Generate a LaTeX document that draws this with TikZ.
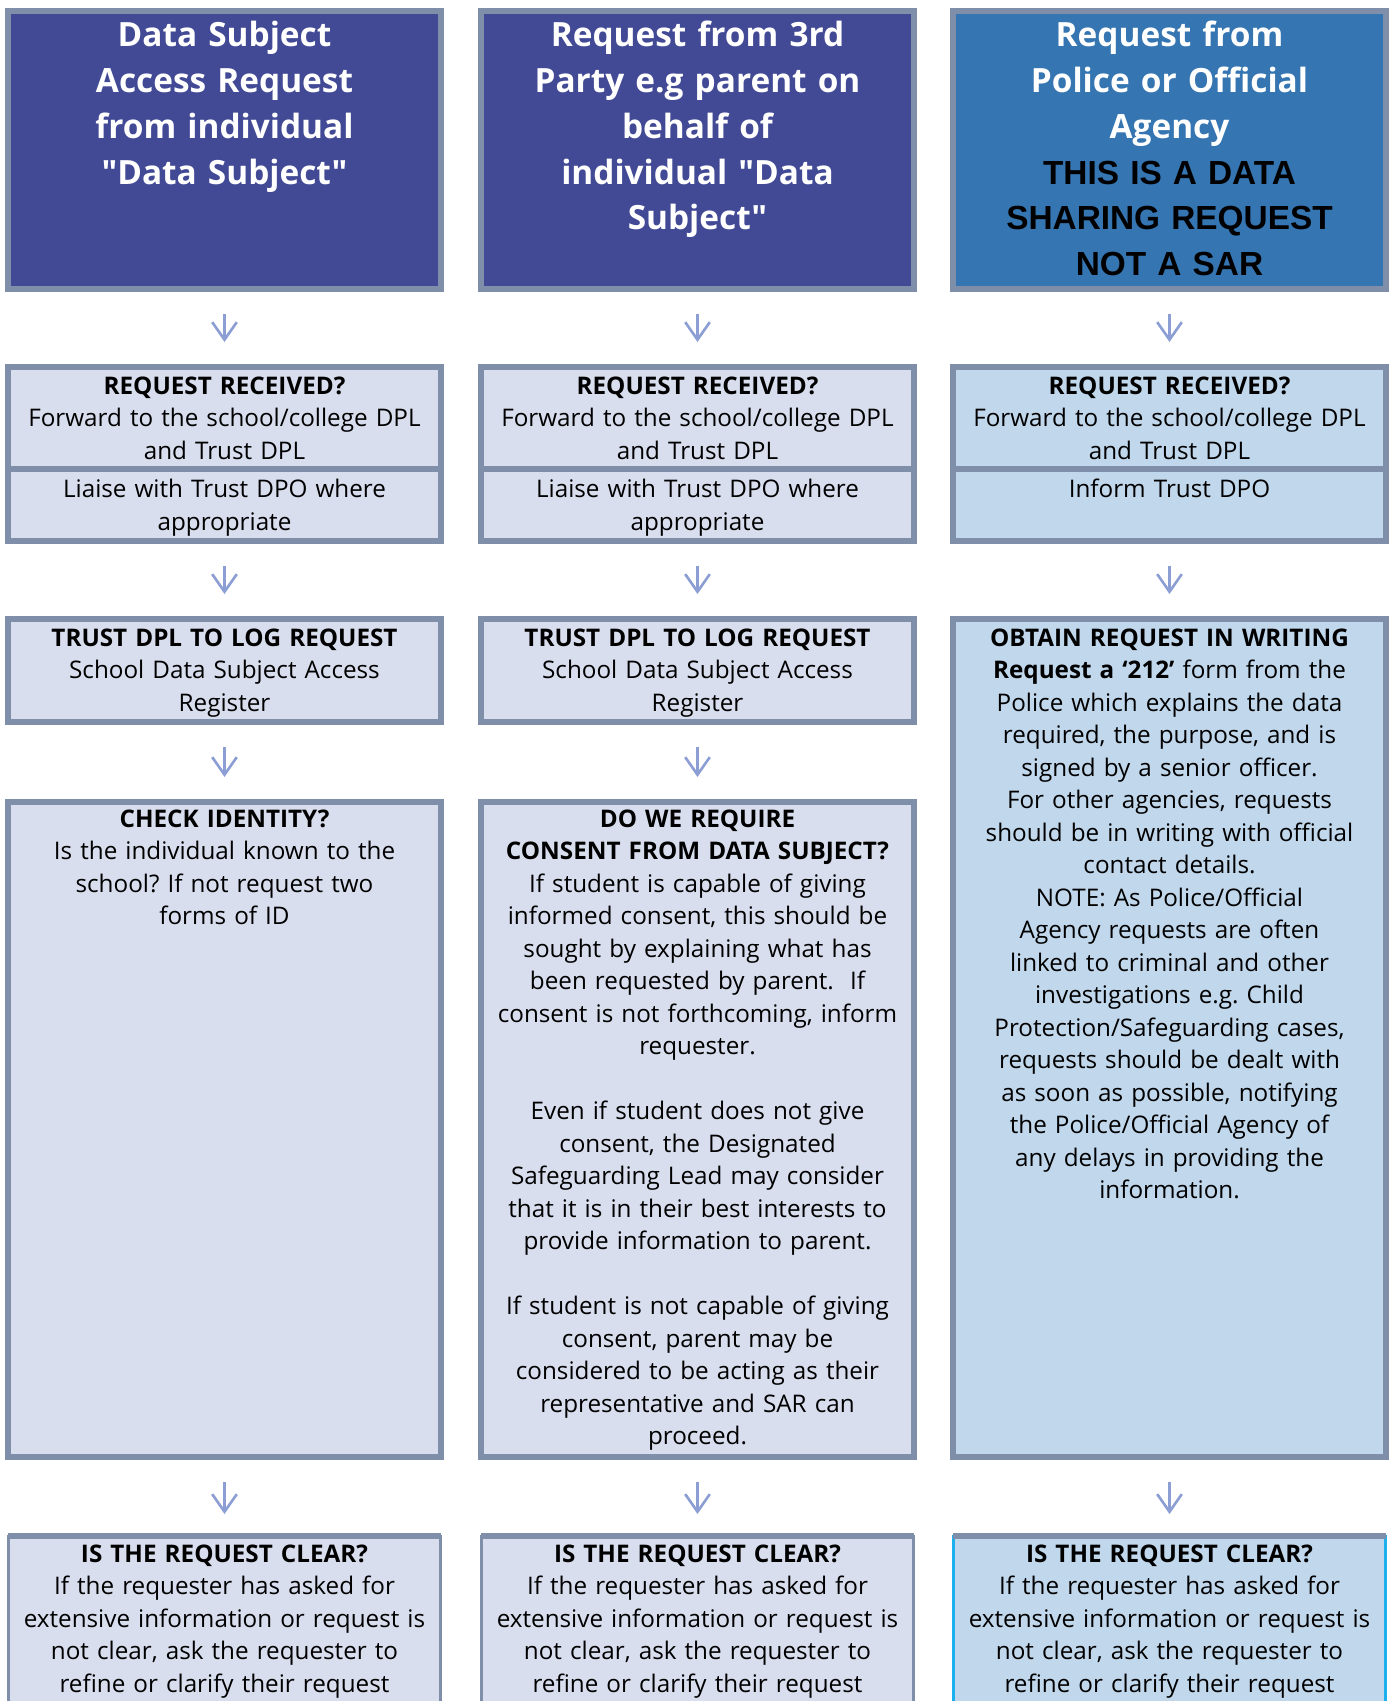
\documentclass[tikz,border=0pt]{standalone}
\usepackage{fontspec}
\usetikzlibrary{positioning,arrows.meta}
\setmainfont{Open Sans}
\newfontfamily\headfont{Open Sans}
\newfontfamily\sarfont{Liberation Sans}
\definecolor{sarhead}{HTML}{424A96}
\definecolor{policehead}{HTML}{3575B1}
\definecolor{sarbody}{HTML}{D9DEEE}
\definecolor{policebody}{HTML}{C1D7EC}
\definecolor{sarline}{HTML}{7F8FA9}
\definecolor{sararrow}{HTML}{8C9ED4}
\definecolor{sarcyan}{HTML}{1CB0EE}
\frenchspacing

\begin{document}
\begin{tikzpicture}[x=0.02cm,y=0.02cm,
    stage/.style={draw=sarline,line width=0.12cm,fill=sarbody,anchor=north,
      text width=8.5cm,inner xsep=0.08cm,inner ysep=0pt,align=center,
      text height=0.54cm,font=\fontsize{13.8}{18.5}\selectfont},
    head/.style={stage,fill=sarhead,text=white,text height=0.72cm,text depth=4.84cm,
      font=\headfont\fontsize{19}{26}\selectfont\bfseries},
    received/.style={stage,text depth=1.51cm},
    liaise/.style={stage,text height=0.57cm,text depth=0.86cm},
    logbox/.style={stage,text depth=1.52cm},
    checkbox/.style={stage,text height=0.5cm,text depth=12.6cm},
    askbox/.style={stage,line width=0.06cm,outer sep=0pt,text height=0.52cm,text depth=3.16cm},
    flow/.style={draw=sararrow,line width=1.5pt,-{Straight Barb[length=10pt,width=14pt]},
      shorten <=0.44cm,shorten >=0.44cm}]
  \useasboundingbox (0,0) rectangle (1398,-1701);

  \node[head] (dsar) at (224.5,-8) {Data Subject\\Access Request\\from individual\\"Data Subject"};
  \node[head] (third) at (697.5,-8) {Request from 3rd\\Party e.g parent on\\behalf of\\individual "Data\\Subject"};
  \node[head,fill=policehead] (police) at (1169.5,-8)
    {Request from\\Police or Official\\Agency\\{\sarfont\color{black}THIS IS A DATA\\SHARING REQUEST\\NOT A SAR}};

  \node[received] (rec1) at (224.5,-364) {\textbf{REQUEST RECEIVED?}\\Forward to the school/college DPL\\and Trust DPL};
  \node[liaise,below=-0.12cm of rec1] (liaise1) {Liaise with Trust DPO where\\appropriate};
  \node[received] (rec2) at (697.5,-364) {\textbf{REQUEST RECEIVED?}\\Forward to the school/college DPL\\and Trust DPL};
  \node[liaise,below=-0.12cm of rec2] (liaise2) {Liaise with Trust DPO where\\appropriate};
  \node[received,fill=policebody] (rec3) at (1169.5,-364) {\textbf{REQUEST RECEIVED?}\\Forward to the school/college DPL\\and Trust DPL};
  \node[liaise,fill=policebody,below=-0.12cm of rec3] (liaise3) {Inform Trust DPO};

  \node[logbox] (log1) at (224.5,-616) {\textbf{TRUST DPL TO LOG REQUEST}\\School Data Subject Access\\Register};
  \node[logbox] (log2) at (697.5,-616) {\textbf{TRUST DPL TO LOG REQUEST}\\School Data Subject Access\\Register};
  \node[stage,fill=policebody,text depth=16.22cm] (writing) at (1169.5,-616)
    {\textbf{OBTAIN REQUEST IN WRITING}\\\textbf{Request a ‘212’} form from the\\Police which explains the data\\required, the purpose, and is\\signed by a senior officer.\\For other agencies, requests\\should be in writing with official\\contact details.\\NOTE: As Police/Official\\Agency requests are often\\linked to criminal and other\\investigations e.g. Child\\Protection/Safeguarding cases,\\requests should be dealt with\\as soon as possible, notifying\\the Police/Official Agency of\\any delays in providing the\\information.};

  \node[checkbox] (ident) at (224.5,-799) {\textbf{CHECK IDENTITY?}\\Is the individual known to the\\school? If not request two\\forms of ID};
  \node[checkbox] (consent) at (697.5,-799)
    {\textbf{DO WE REQUIRE}\\\textbf{CONSENT FROM DATA SUBJECT?}\\If student is capable of giving\\informed consent, this should be\\sought by explaining what has\\been requested by parent.\ \ If\\consent is not forthcoming, inform\\requester.\\[18.5pt]Even if student does not give\\consent, the Designated\\Safeguarding Lead may consider\\that it is in their best interests to\\provide information to parent.\\[18.5pt]If student is not capable of giving\\consent, parent may be\\considered to be acting as their\\representative and SAR can\\proceed.};

  \node[askbox] (clear1) at (224.5,-1536) {\textbf{IS THE REQUEST CLEAR?}\\If the requester has asked for\\extensive information or request is\\not clear, ask the requester to\\refine or clarify their request};
  \node[askbox] (clear2) at (697.5,-1536) {\textbf{IS THE REQUEST CLEAR?}\\If the requester has asked for\\extensive information or request is\\not clear, ask the requester to\\refine or clarify their request};
  \node[askbox,draw=sarcyan,fill=policebody] (clear3) at (1169.5,-1536) {\textbf{IS THE REQUEST CLEAR?}\\If the requester has asked for\\extensive information or request is\\not clear, ask the requester to\\refine or clarify their request};
  \draw[sarline,line width=0.12cm] (clear1.north west) -- (clear1.north east);
  \draw[sarline,line width=0.12cm] (clear2.north west) -- (clear2.north east);
  \draw[sarline,line width=0.12cm] (clear3.north west) -- (clear3.north east);

  \draw[flow] (dsar.south) -- (rec1.north);
  \draw[flow] (third.south) -- (rec2.north);
  \draw[flow] (police.south) -- (rec3.north);
  \draw[flow] (liaise1.south) -- (log1.north);
  \draw[flow] (liaise2.south) -- (log2.north);
  \draw[flow] (liaise3.south) -- (writing.north);
  \draw[flow] (log1.south) -- (ident.north);
  \draw[flow] (log2.south) -- (consent.north);
  \draw[flow] (ident.south) -- (clear1.north);
  \draw[flow] (consent.south) -- (clear2.north);
  \draw[flow] (writing.south) -- (clear3.north);
\end{tikzpicture}
\end{document}
